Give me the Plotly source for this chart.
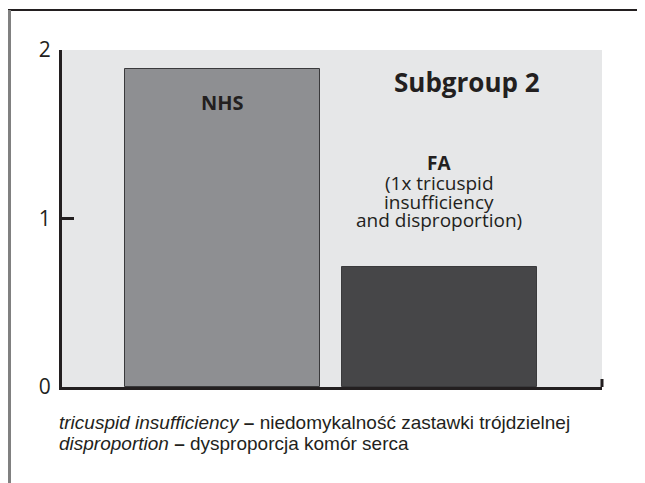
import plotly.graph_objects as go

categories = ["NHS", "FA"]
values = [1.89, 0.71]
bar_colors = ["#8e8f92", "#464648"]
y_ticks = [0, 1, 2]
title_text = "Subgroup 2"
fa_lines = ["(1x tricuspid", "insufficiency", "and disproportion)"]
footer_lines = [
    "<i>tricuspid insufficiency</i> <b>–</b> niedomykalność zastawki trójdzielnej",
    "<i>disproportion</i> <b>–</b> dysproporcja komór serca",
]

# page body has an 8px margin; figure is sized so the page layout matches
OFF = 8
W, H = 645 - OFF, 483 - OFF
L, R, T, B = 62 - OFF, 43, 50 - OFF, 96
pw, ph = W - L - R, H - T - B
PL, PB = L + OFF, H + OFF - B  # plot left / bottom in page pixels

def px(xp):
    return (xp - PL) / pw

def py(yp):
    return (PB - yp) / ph

fig = go.Figure()
fig.add_trace(go.Bar(
    x=[0, 1], y=values, width=0.9,
    marker=dict(color=bar_colors, line=dict(color="#3a3a3c", width=1)),
    hoverinfo="skip",
))

ink = "#231f20"
fontfam = "Open Sans"
ann = []
ann.append(dict(x=px(467), y=py(82), xref="paper", yref="paper", text="<b>" + title_text + "</b>",
                xanchor="center", yanchor="middle",
                showarrow=False, font=dict(family=fontfam, size=26, color=ink)))
ann.append(dict(x=0, y=py(102) * 2, xref="x", yref="y", text="<b>" + categories[0] + "</b>",
                xanchor="center", yanchor="middle",
                showarrow=False, font=dict(family=fontfam, size=20, color=ink)))
ann.append(dict(x=1, y=py(163) * 2, xref="x", yref="y", text="<b>" + categories[1] + "</b>",
                xanchor="center", yanchor="middle",
                showarrow=False, font=dict(family=fontfam, size=19, color=ink)))
for i, t in enumerate(fa_lines):
    ann.append(dict(x=1, y=py(183 + 18.5 * i) * 2, xref="x", yref="y", text=t,
                    xanchor="center", yanchor="middle",
                    showarrow=False, font=dict(family=fontfam, size=19, color=ink)))
for i, t in enumerate(footer_lines):
    ann.append(dict(x=px(57), y=py(423 + 20 * i), xref="paper", yref="paper", text=t,
                    xanchor="left", yanchor="middle", showarrow=False,
                    font=dict(family="Liberation Sans", size=19, color=ink)))

shapes = [
    dict(type="line", xref="paper", yref="paper", x0=px(8), x1=px(700), y0=py(10), y1=py(10),
         line=dict(color="#231f20", width=2)),
    dict(type="line", xref="paper", yref="paper", x0=px(9.5), x1=px(9.5), y0=py(10), y1=py(520),
         line=dict(color="#808080", width=3)),
    dict(type="line", xref="paper", yref="paper", x0=1, x1=1, y0=0, y1=py(379),
         line=dict(color="#231f20", width=3)),
]

fig.update_layout(
    width=W, height=H,
    margin=dict(l=L, r=R, t=T, b=B),
    paper_bgcolor="white",
    plot_bgcolor="#e6e7e8",
    showlegend=False,
    annotations=ann,
    shapes=shapes,
    xaxis=dict(range=[-0.74, 1.75], showticklabels=False, ticks="", showgrid=False,
               zeroline=False, showline=True, linecolor="#231f20", linewidth=3),
    yaxis=dict(range=[0, 2], tickvals=y_ticks, ticktext=[str(v) for v in y_ticks],
               ticks="inside", ticklen=12, tickwidth=3, tickcolor="#231f20",
               showgrid=False, zeroline=False, showline=True, linecolor="#231f20", linewidth=3,
               tickfont=dict(family=fontfam, size=21, color=ink), ticklabelstandoff=4),
    bargap=0,
)

fig.write_html("out.html")
